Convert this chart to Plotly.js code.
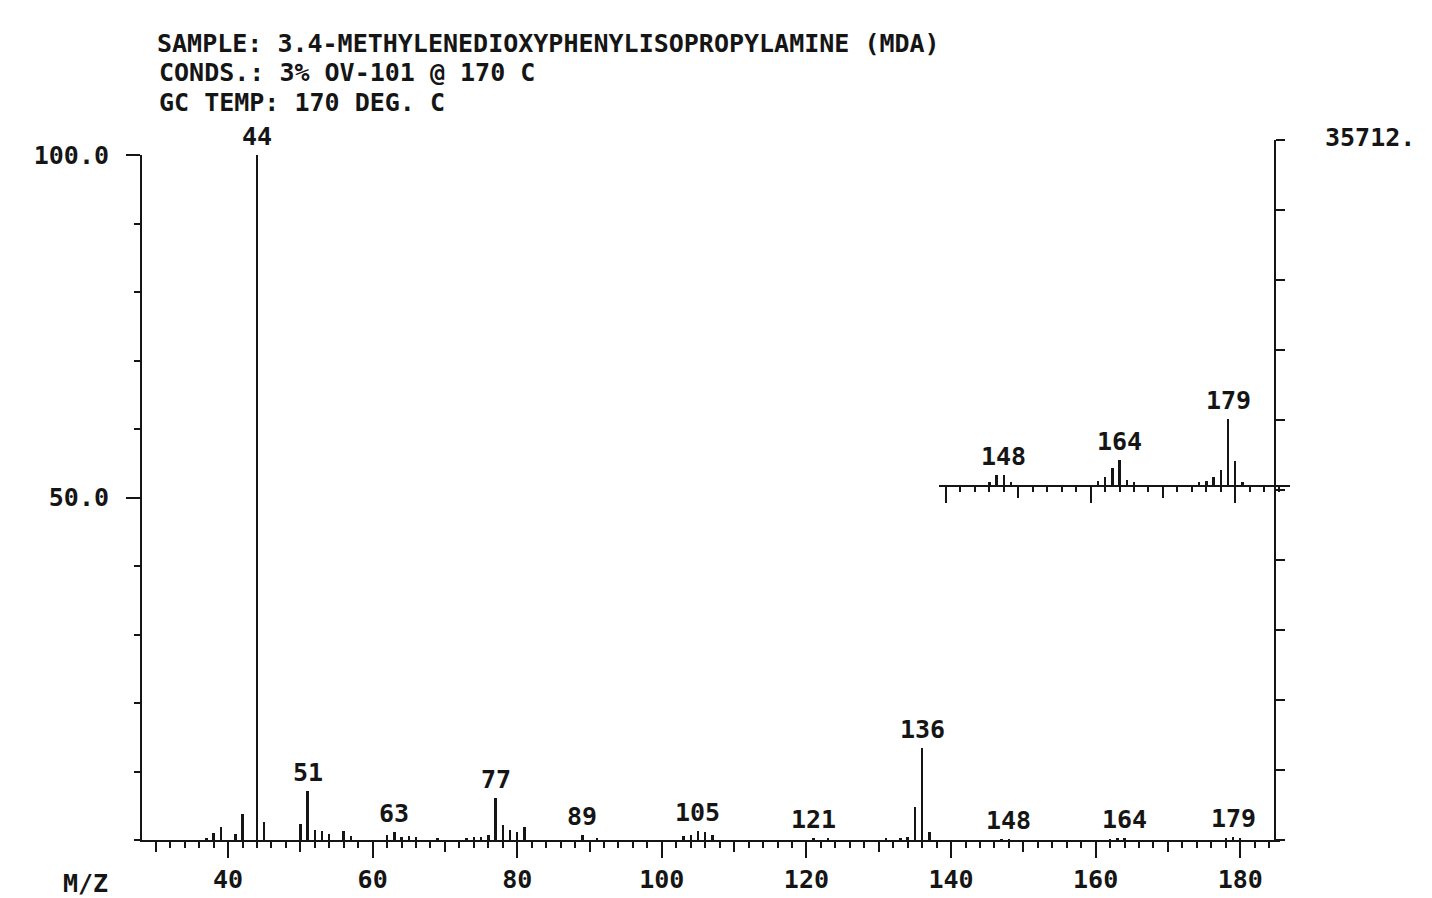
<!DOCTYPE html>
<html><head><meta charset="utf-8">
<script src="https://cdn.plot.ly/plotly-3.0.1.min.js"></script>
<style>html,body{margin:0;padding:0;background:#fff}#chart{width:1432px;height:898px}</style>
</head><body><div id="chart"></div>
<script>
// ---------- text ----------
const titleLines = [
  "SAMPLE: 3.4-METHYLENEDIOXYPHENYLISOPROPYLAMINE (MDA)",
  "CONDS.: 3% OV-101 @ 170 C",
  "GC TEMP: 170 DEG. C"
];
const totalIonLabel = "35712.";
const xAxisLabel = "M/Z";
const yTickVals = [50, 100];
const yTickText = ["50.0", "100.0"];

// ---------- main spectrum (relative intensity, %) ----------
const mz =        [37, 38, 39, 41, 42, 44, 45, 50, 51, 52, 53, 54, 56, 57, 62, 63, 64, 65, 66, 69, 73, 74, 75, 76, 77, 78, 79, 80, 81, 89, 91, 103, 104, 105, 106, 107, 121, 123, 131, 133, 134, 135, 136, 137, 147, 148, 162, 163, 164, 178, 179, 180];
const intensity = [0.3, 1.0, 1.9, 0.9, 3.8, 100, 2.6, 2.3, 7.1, 1.4, 1.3, 0.9, 1.3, 0.6, 0.8, 1.2, 0.5, 0.6, 0.4, 0.3, 0.3, 0.4, 0.5, 0.7, 6.2, 2.2, 1.4, 1.1, 1.9, 0.7, 0.3, 0.6, 0.7, 1.3, 1.1, 0.7, 0.3, 0.3, 0.3, 0.3, 0.5, 4.8, 13.5, 1.2, 0.14, 0.15, 0.12, 0.25, 0.36, 0.22, 0.5, 0.35];
const mainLabels = [44, 51, 63, 77, 89, 105, 121, 136, 148, 164, 179];

// ---------- magnified inset (same intensity scale, amplified) ----------
const insetMz =        [146, 147, 148, 149, 161, 162, 163, 164, 165, 166, 175, 176, 177, 178, 179, 180, 181];
const insetIntensity = [0.5, 1.4, 1.4, 0.5, 0.6, 1.2, 2.5, 3.6, 0.8, 0.4, 0.4, 0.6, 1.1, 2.2, 9.7, 3.5, 0.5];
const insetLabels = [148, 164, 179];

// ---------- geometry ----------
const FIG_W = 1432, FIG_H = 898;
const PL = 142, PR = 1300, PT = 130, PB = 840;
const W = PR - PL, H = PB - PT;
const mainXRange = [28.1, 185.5];
const mainXEndPx = 1280;
const ppu = (mainXEndPx - PL) / (mainXRange[1] - mainXRange[0]);
const yTopPx = 155;
const ppy = (PB - yTopPx) / 100;
const insetXRange = [139, 187.6];
const insetBasePx = 485;
const insetLeftPx = PL + (insetXRange[0] - mainXRange[0]) * ppu - 5;
const insetRightPx = insetLeftPx + (insetXRange[1] - insetXRange[0]) * ppu;
const rightAxisPx = 1275, rightAxisTopPx = 140;
const titleYPx = [43, 72.5, 102];

const ink = '#151515';
const FONT = {family: 'DejaVu Sans Mono, Liberation Mono, monospace', size: 25, color: ink, weight: 'bold'};
const TFONT = Object.assign({}, FONT, {size: 25});

function valueAt(xs, ys, m) { const i = xs.indexOf(m); return i >= 0 ? ys[i] : 0; }

const traces = [
  {type: 'bar', x: mz, y: intensity, width: 0.34, marker: {color: ink, line: {width: 0}},
   xaxis: 'x', yaxis: 'y', hoverinfo: 'x+y', showlegend: false},
  {type: 'bar', x: insetMz, y: insetIntensity, width: 0.34, marker: {color: ink, line: {width: 0}},
   xaxis: 'x2', yaxis: 'y2', hoverinfo: 'x+y', showlegend: false},
  {type: 'scatter', mode: 'markers', x: [null], y: [null], xaxis: 'x', yaxis: 'y3', hoverinfo: 'skip', showlegend: false},
  {type: 'scatter', mode: 'markers', x: [null], y: [null], xaxis: 'x3', yaxis: 'y', hoverinfo: 'skip', showlegend: false},
  {type: 'scatter', mode: 'markers', x: [null], y: [null], xaxis: 'x4', yaxis: 'y2', hoverinfo: 'skip', showlegend: false}
];

const annotations = [];
mainLabels.forEach(m => annotations.push({
  x: m, y: valueAt(mz, intensity, m), xref: 'x', yref: 'y', text: String(m),
  showarrow: false, yanchor: 'bottom', xanchor: 'center', yshift: 2, font: FONT
}));
insetLabels.forEach(m => annotations.push({
  x: m, y: valueAt(insetMz, insetIntensity, m), xref: 'x2', yref: 'y2', text: String(m),
  showarrow: false, yanchor: 'bottom', xanchor: 'center', yshift: 2, font: FONT
}));
titleLines.slice(1).forEach((t, i) => annotations.push({
  x: (157 - PL) / W, y: (PB - titleYPx[i + 1]) / H, xref: 'paper', yref: 'paper', text: t,
  showarrow: false, xanchor: 'left', yanchor: 'middle', font: TFONT
}));
annotations.push({x: (1370 - PL) / W, y: (PB - 137) / H, xref: 'paper', yref: 'paper',
  text: totalIonLabel, showarrow: false, xanchor: 'center', yanchor: 'middle', font: FONT});
annotations.push({x: (85 - PL) / W, y: (PB - 884) / H, xref: 'paper', yref: 'paper',
  text: xAxisLabel, showarrow: false, xanchor: 'center', yanchor: 'middle', font: FONT});

const baseX = {showgrid: false, zeroline: false, ticks: 'outside', tickcolor: ink, tickwidth: 2, fixedrange: true};

const layout = {
  width: FIG_W, height: FIG_H,
  margin: {l: PL, r: FIG_W - PR, t: PT, b: FIG_H - PB, pad: 0},
  paper_bgcolor: '#fff', plot_bgcolor: 'rgba(0,0,0,0)',
  showlegend: false, bargap: 0,
  title: {text: titleLines[0], x: 157 / FIG_W, xanchor: 'left', xref: 'container',
          y: 1 - titleYPx[0] / FIG_H, yanchor: 'middle', yref: 'container', font: TFONT, pad: {t: 0, b: 0, l: 0, r: 0}},
  xaxis: Object.assign({}, baseX, {
    range: mainXRange, domain: [0, (mainXEndPx - PL) / W], anchor: 'y',
    dtick: 20, tick0: 0, ticklen: 16, showline: true, linecolor: ink, linewidth: 2,
    tickfont: FONT, ticklabelstandoff: 0, automargin: false,
    minor: {dtick: 2, tick0: 0, ticks: 'outside', ticklen: 6, tickwidth: 2, tickcolor: ink, showgrid: false}
  }),
  xaxis3: Object.assign({}, baseX, {
    range: mainXRange, overlaying: 'x', anchor: 'y', side: 'bottom',
    dtick: 10, tick0: 0, ticklen: 11, showticklabels: false, showline: false
  }),
  yaxis: {
    range: [0, 100], domain: [0, (PB - yTopPx) / H], anchor: 'x',
    showgrid: false, zeroline: false, showline: true, linecolor: ink, linewidth: 2,
    ticks: 'outside', ticklen: 14, tickwidth: 2, tickcolor: ink,
    tickvals: yTickVals, ticktext: yTickText, tickfont: FONT, ticklabelstandoff: 12,
    minor: {dtick: 10, tick0: 0, ticks: 'outside', ticklen: 6, tickwidth: 2, tickcolor: ink, showgrid: false},
    fixedrange: true, automargin: false
  },
  yaxis3: {
    range: [0, 100], domain: [0, (PB - rightAxisTopPx) / H], anchor: 'free',
    position: (rightAxisPx - PL) / W, side: 'right',
    showgrid: false, zeroline: false, showline: true, linecolor: ink, linewidth: 2,
    ticks: 'outside', ticklen: 9, tickwidth: 2, tickcolor: ink, dtick: 10, tick0: 0,
    showticklabels: false, fixedrange: true
  },
  xaxis2: Object.assign({}, baseX, {
    range: insetXRange, domain: [(insetLeftPx - PL) / W, (insetRightPx - PL) / W], anchor: 'y2',
    dtick: 10, tick0: 0, ticklen: 11, showline: true, linecolor: ink, linewidth: 2,
    showticklabels: false,
    minor: {dtick: 2, tick0: 0, ticks: 'outside', ticklen: 5, tickwidth: 2, tickcolor: ink, showgrid: false}
  }),
  xaxis4: Object.assign({}, baseX, {
    range: insetXRange, overlaying: 'x2', anchor: 'y2', side: 'bottom',
    dtick: 20, tick0: 0, ticklen: 17, showticklabels: false, showline: false
  }),
  yaxis2: {
    range: [0, (insetBasePx - PT) / ppy], domain: [(PB - insetBasePx) / H, 1], anchor: 'x2',
    visible: false, fixedrange: true
  },
  annotations: annotations
};

Plotly.newPlot('chart', traces, layout, {displayModeBar: false, staticPlot: true});
</script>
</body></html>
